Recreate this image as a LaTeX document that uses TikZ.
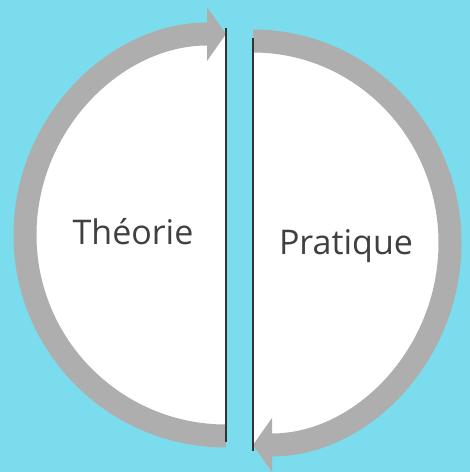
\documentclass[tikz,border=0pt]{standalone}
\usepackage{fontspec}
\setmainfont{Open Sans}
\usetikzlibrary{arrows.meta}
\definecolor{sky}{RGB}{122,220,236}
\definecolor{band}{RGB}{174,174,174}
\definecolor{ink}{RGB}{64,64,64}

\begin{document}
\begin{tikzpicture}[x=1pt,y=1pt,
  loop/.style={draw=band,line width=23pt,
    -{Triangle[length=19pt 0 0,width=54pt 0 0,line width=0pt 0 0]}},
  divider/.style={draw=black!80,line width=1.8pt},
  word/.style={text=ink,font=\fontsize{34}{40}\selectfont,anchor=base}]
\fill[sky] (0,0) rectangle (470,472);
\useasboundingbox (0,0) rectangle (470,472);
% theory half
\fill[white] (226,36) arc (270:90:201) -- cycle;
\draw[loop] (226,36) arc (270:90:201);
\coordinate (tl) at (226,444);
\coordinate (bl) at (226,30);
\draw[divider] (tl) -- (bl);
\node[word] (theorie) at (133,227) {Théorie};
% practice half
\fill[white] (253,431) arc[start angle=90,end angle=-90,x radius=197,y radius=202] -- cycle;
\draw[loop] (253,431) arc[start angle=90,end angle=-90,x radius=197,y radius=202];
\coordinate (tr) at (253,434);
\coordinate (br) at (253,21);
\draw[divider] (tr) -- (br);
\node[word] (pratique) at (346,217) {Pratique};
\end{tikzpicture}
\end{document}
